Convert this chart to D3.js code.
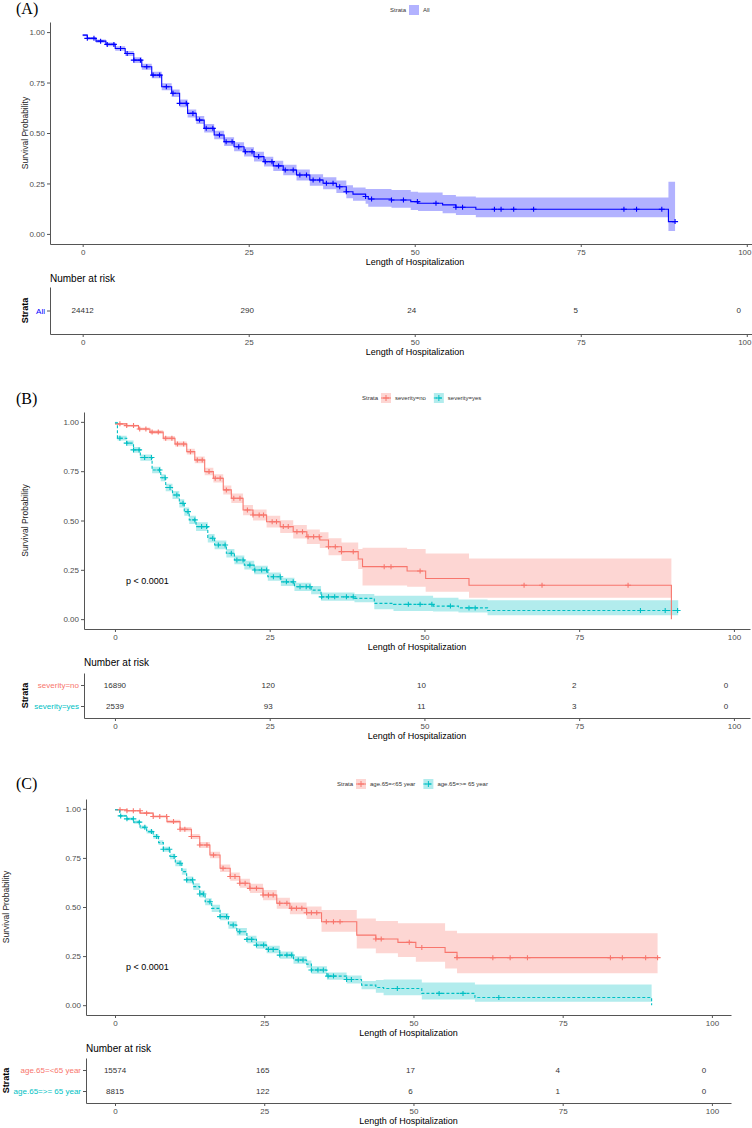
<!DOCTYPE html>
<html lang="en">
<head>
    <meta charset="utf-8">
    <style>
        body { margin: 0; background: white; }
        svg { display: block; font-family: "Liberation Sans", Arial, sans-serif; }
        .axis path, .axis line { stroke: #555; stroke-width: 1; }
        .axis text { fill: #4D4D4D; font-size: 8px; }
        .tag { font-family: "Liberation Serif", "Times New Roman", serif; font-size: 16px; }
        .legend text { font-size: 6px; fill: #333; }
    </style>
    <script src="https://d3js.org/d3.v7.min.js"></script>
</head>
<body>
<svg id="chart" width="752" height="1128"></svg>
<script>
// ---- data ----
const xTicks = [0, 25, 50, 75, 100];
const yTicks = [0, 0.25, 0.5, 0.75, 1];
const riskTimes = [0, 25, 50, 75, 100];

// (A) all patients
const aTime = [0, 0.7, 2.0, 3.5, 4.9, 6.4, 7.7, 8.9, 10.4, 11.9, 13.4, 14.6, 15.8, 17.1, 18.3, 19.8, 21.3, 22.8, 24.3, 25.8, 27.3, 28.7, 30.2, 32.2, 34.2, 36.2, 38.2, 39.7, 40.7, 42.6, 43.0, 46.5, 49.4, 50.5, 54.2, 56.2, 59.2, 88.2, 89.2];
const aSurv = [0.985, 0.969, 0.955, 0.939, 0.919, 0.894, 0.861, 0.828, 0.787, 0.729, 0.697, 0.647, 0.597, 0.564, 0.523, 0.490, 0.457, 0.432, 0.407, 0.383, 0.358, 0.337, 0.317, 0.292, 0.267, 0.251, 0.234, 0.209, 0.197, 0.185, 0.173, 0.168, 0.160, 0.152, 0.144, 0.132, 0.122, 0.061, 0.061];
const aLow  = [0.980, 0.962, 0.947, 0.930, 0.908, 0.882, 0.847, 0.813, 0.771, 0.712, 0.679, 0.628, 0.577, 0.544, 0.502, 0.469, 0.435, 0.410, 0.384, 0.359, 0.334, 0.312, 0.291, 0.265, 0.239, 0.221, 0.203, 0.177, 0.164, 0.150, 0.135, 0.130, 0.119, 0.113, 0.102, 0.094, 0.083, 0.015, 0.015];
const aUp   = [0.990, 0.976, 0.963, 0.948, 0.930, 0.906, 0.875, 0.843, 0.803, 0.746, 0.715, 0.666, 0.617, 0.584, 0.544, 0.511, 0.479, 0.454, 0.430, 0.407, 0.382, 0.362, 0.343, 0.319, 0.295, 0.281, 0.265, 0.241, 0.230, 0.222, 0.223, 0.218, 0.209, 0.205, 0.193, 0.185, 0.180, 0.259, 0.259];
const aCens = [0.7, 1.7, 2.7, 3.7, 4.7, 5.7, 6.7, 7.7, 8.7, 9.65, 10.6, 11.6, 12.6, 13.6, 14.6, 15.6, 16.6, 17.6, 18.6, 19.6, 20.6, 21.6, 22.5, 23.5, 24.5, 25.5, 26.5, 27.5, 28.5, 29.5, 30.5, 31.7, 32.7, 33.7, 34.7, 35.7, 36.7, 37.7, 38.7, 39.7, 42.6, 43.5, 46.5, 48.3, 50.4, 53.2, 56.2, 57.2, 62.0, 63.0, 64.9, 67.9, 81.5, 83.4, 87.2, 89.2];
const aRisk = [24412, 290, 24, 5, 0];

// (B) severity = no
const bNoTime = [0, 1.9, 3.8, 5.65, 7.8, 9.7, 11.6, 12.9, 14.5, 15.9, 17.5, 18.8, 20.7, 22.3, 24.5, 26.7, 28.8, 31.0, 33.1, 34.5, 36.6, 39.3, 40.0, 47.2, 50.2, 57.2, 89.9];
const bNoSurv = [0.990, 0.981, 0.964, 0.948, 0.917, 0.888, 0.849, 0.807, 0.748, 0.714, 0.655, 0.613, 0.553, 0.528, 0.494, 0.469, 0.443, 0.418, 0.401, 0.367, 0.342, 0.305, 0.266, 0.244, 0.206, 0.172, 0.0];
const bNoLow  = [0.986, 0.976, 0.957, 0.939, 0.906, 0.875, 0.834, 0.790, 0.729, 0.693, 0.632, 0.589, 0.527, 0.500, 0.464, 0.437, 0.409, 0.381, 0.361, 0.324, 0.295, 0.254, 0.170, 0.164, 0.139, 0.108, 0.0];
const bNoUp   = [0.994, 0.986, 0.971, 0.957, 0.928, 0.901, 0.864, 0.824, 0.767, 0.735, 0.678, 0.637, 0.579, 0.556, 0.524, 0.501, 0.477, 0.455, 0.441, 0.410, 0.389, 0.356, 0.362, 0.355, 0.333, 0.308, 0.0];
const bNoCens = [0.8, 1.9, 3.0, 4.0, 5.0, 6.0, 7.0, 8.2, 9.2, 10.1, 11.1, 12.2, 13.3, 14.1, 15.2, 16.2, 17.0, 18.0, 19.2, 20.2, 21.4, 22.3, 23.3, 24.0, 25.4, 26.1, 27.2, 28.0, 29.4, 30.3, 31.2, 32.1, 33.0, 34.5, 35.6, 36.6, 38.5, 43.5, 44.6, 49.3, 66.1, 69.0, 82.9];
const bNoRisk = [16890, 120, 10, 2, 0];

// (B) severity = yes
const bYesTime = [0, 0.4, 1.9, 3.0, 4.1, 6.0, 7.4, 8.2, 9.3, 10.4, 11.2, 12.0, 13.1, 15.0, 16.1, 18.0, 19.3, 20.9, 22.5, 24.7, 26.8, 29.0, 31.7, 33.3, 38.7, 41.9, 45.0, 51.4, 55.5, 60.2, 91.0];
const bYesSurv = [0.995, 0.917, 0.892, 0.858, 0.819, 0.756, 0.717, 0.667, 0.629, 0.587, 0.545, 0.503, 0.469, 0.410, 0.376, 0.334, 0.300, 0.274, 0.249, 0.215, 0.189, 0.164, 0.147, 0.113, 0.105, 0.080, 0.075, 0.066, 0.057, 0.044, 0.044];
const bYesLow  = [0.990, 0.905, 0.879, 0.844, 0.803, 0.739, 0.699, 0.648, 0.609, 0.566, 0.524, 0.482, 0.447, 0.388, 0.354, 0.312, 0.278, 0.252, 0.227, 0.194, 0.168, 0.143, 0.126, 0.093, 0.085, 0.050, 0.041, 0.039, 0.034, 0.020, 0.020];
const bYesUp   = [1.000, 0.929, 0.905, 0.872, 0.835, 0.773, 0.735, 0.686, 0.649, 0.608, 0.566, 0.524, 0.491, 0.432, 0.398, 0.356, 0.322, 0.296, 0.271, 0.236, 0.210, 0.185, 0.168, 0.135, 0.127, 0.118, 0.118, 0.108, 0.100, 0.096, 0.096];
const bYesCens = [0.8, 1.9, 3.0, 3.9, 4.8, 5.9, 7.2, 8.1, 8.9, 10.0, 11.0, 11.8, 12.9, 14.0, 14.8, 15.8, 16.7, 17.8, 18.8, 19.7, 20.7, 21.8, 22.6, 23.7, 24.5, 25.6, 26.7, 27.7, 28.8, 29.9, 30.9, 31.5, 33.4, 34.5, 35.5, 37.4, 38.5, 47.4, 49.3, 51.2, 54.2, 57.2, 58.2, 84.9, 88.9, 90.9];
const bYesRisk = [2539, 93, 11, 3, 0];

// (C) age < 65
const cYoungTime = [0, 2.0, 4.2, 6.4, 8.7, 10.9, 12.8, 14.2, 15.9, 17.6, 19.3, 20.9, 22.6, 24.8, 27.1, 29.3, 32.1, 34.6, 40.5, 43.7, 47.4, 50.4, 55.3, 57.3, 90.9];
const cYoungSurv = [0.995, 0.990, 0.978, 0.961, 0.935, 0.896, 0.859, 0.816, 0.765, 0.697, 0.655, 0.621, 0.595, 0.561, 0.519, 0.493, 0.471, 0.425, 0.357, 0.337, 0.320, 0.294, 0.269, 0.242, 0.242];
const cYoungLow  = [0.992, 0.986, 0.973, 0.954, 0.926, 0.885, 0.846, 0.801, 0.748, 0.678, 0.634, 0.598, 0.571, 0.535, 0.491, 0.463, 0.439, 0.374, 0.289, 0.264, 0.245, 0.221, 0.187, 0.162, 0.162];
const cYoungUp   = [0.998, 0.994, 0.983, 0.968, 0.944, 0.907, 0.872, 0.831, 0.782, 0.716, 0.676, 0.644, 0.619, 0.587, 0.547, 0.523, 0.503, 0.485, 0.442, 0.429, 0.417, 0.417, 0.379, 0.366, 0.366];
const cYoungCens = [0.84, 2.0, 3.07, 4.19, 5.3, 6.4, 7.5, 8.65, 9.8, 10.9, 11.7, 12.8, 14.2, 15.4, 16.5, 18.1, 19.3, 20.1, 20.9, 21.8, 22.6, 23.7, 24.8, 25.7, 26.5, 27.6, 28.8, 29.6, 30.4, 31.3, 32.1, 32.9, 33.8, 35.4, 36.6, 37.7, 43.7, 44.6, 49.3, 51.4, 57.3, 63.3, 66.2, 69.1, 83.0, 85.0, 88.9, 90.9];
const cYoungRisk = [15574, 165, 17, 4, 0];

// (C) age >= 65
const cOldTime = [0, 0.8, 2.0, 3.1, 4.2, 5.3, 6.4, 7.3, 8.1, 9.2, 10.1, 11.2, 12.0, 13.1, 14.2, 15.1, 16.2, 17.6, 19.0, 20.4, 22.1, 23.7, 25.4, 27.6, 29.9, 32.1, 32.9, 35.5, 38.8, 41.3, 43.7, 45.0, 51.4, 60.3, 89.9];
const cOldSurv = [0.995, 0.964, 0.949, 0.932, 0.906, 0.884, 0.859, 0.828, 0.794, 0.757, 0.723, 0.680, 0.638, 0.604, 0.566, 0.527, 0.493, 0.451, 0.408, 0.374, 0.335, 0.306, 0.284, 0.255, 0.230, 0.209, 0.179, 0.148, 0.131, 0.102, 0.090, 0.085, 0.060, 0.039, 0.0];
const cOldLow  = [0.992, 0.958, 0.942, 0.924, 0.897, 0.874, 0.848, 0.816, 0.781, 0.743, 0.708, 0.664, 0.621, 0.587, 0.548, 0.509, 0.474, 0.432, 0.389, 0.355, 0.316, 0.287, 0.265, 0.236, 0.211, 0.190, 0.160, 0.129, 0.111, 0.081, 0.063, 0.051, 0.029, 0.017, 0.0];
const cOldUp   = [0.998, 0.970, 0.956, 0.940, 0.915, 0.894, 0.870, 0.840, 0.807, 0.771, 0.738, 0.696, 0.655, 0.621, 0.584, 0.545, 0.512, 0.470, 0.427, 0.393, 0.354, 0.325, 0.303, 0.274, 0.249, 0.228, 0.198, 0.167, 0.151, 0.123, 0.128, 0.131, 0.116, 0.105, 0.0];
const cOldCens = [0.95, 2.0, 3.07, 4.07, 5.0, 6.1, 6.98, 8.1, 9.1, 9.9, 10.9, 12.0, 13.0, 14.2, 14.8, 15.9, 17.6, 18.7, 19.8, 20.9, 22.1, 22.9, 23.7, 24.9, 25.7, 26.5, 27.6, 28.8, 29.6, 30.7, 31.5, 32.9, 34.0, 34.9, 35.7, 36.6, 38.8, 39.6, 47.3, 54.3, 58.3, 64.3];
const cOldRisk = [8815, 122, 6, 1, 0];

// ---- panel layout ----
const W = 752;
const RED = "#F8766D", CYAN = "#00BFC4", BLUE = "#0000FF";
// risk numbers sit a little left of their ticks in the original
const riskShift = [0, -1.5, -3, -5, -8];

const panels = [
    { tag: "(A)", tagY: 14, legY: 10, legX: 390, xDom: [-4.92, 105], xRange: [50, 780], yRange: [244, 22],
      ylabX: 25, pval: null, riskTitleY: 282, riskRange: [287, 334], strataX: 25,
      strata: [{ name: "All", legend: "All", color: BLUE, band: BLUE, dash: null, keyLine: false,
                 time: aTime, surv: aSurv, low: aLow, up: aUp, cens: aCens, risk: aRisk }] },
    { tag: "(B)", tagY: 404, legY: 398, legX: 362, xDom: [-5, 102.6], xRange: [84, 750], yRange: [629, 412],
      ylabX: 25, pval: [126, 584], riskTitleY: 666, riskRange: [673, 718], strataX: 25,
      strata: [{ name: "severity=no", legend: "severity=no", color: RED, band: RED, dash: null, keyLine: true,
                 time: bNoTime, surv: bNoSurv, low: bNoLow, up: bNoUp, cens: bNoCens, risk: bNoRisk },
               { name: "severity=yes", legend: "severity=yes", color: CYAN, band: CYAN, dash: "3,2", keyLine: true,
                 time: bYesTime, surv: bYesSurv, low: bYesLow, up: bYesUp, cens: bYesCens, risk: bYesRisk }] },
    { tag: "(C)", tagY: 789, legY: 784, legX: 337, xDom: [-4.86, 103.2], xRange: [86, 731], yRange: [1015, 799],
      ylabX: 6, pval: [126, 970], riskTitleY: 1052, riskRange: [1058, 1103], strataX: 6,
      strata: [{ name: "age.65=<65  year", legend: "age.65=<65 year", color: RED, band: RED, dash: null, keyLine: true,
                 time: cYoungTime, surv: cYoungSurv, low: cYoungLow, up: cYoungUp, cens: cYoungCens, risk: cYoungRisk },
               { name: "age.65=>= 65 year", legend: "age.65=>= 65 year", color: CYAN, band: CYAN, dash: "3,2", keyLine: true,
                 time: cOldTime, surv: cOldSurv, low: cOldLow, up: cOldUp, cens: cOldCens, risk: cOldRisk }] }
];

const svg = d3.select("#chart");

// survival value at time t (step function)
function stepAt(time, surv, t) {
    let v = surv[0];
    for (let i = 0; i < time.length; i++) { if (time[i] <= t) v = surv[i]; }
    return v;
}

function styleAxis(g) {
    g.attr("class", "axis");
    g.selectAll("text").attr("font-family", null);
}

// keep bottom-axis labels inside the page
function keepInside(g, x) {
    g.selectAll(".tick text").each(function (d) {
        const w = this.getComputedTextLength();
        if (x(d) + w / 2 > W - 1) {
            d3.select(this).attr("text-anchor", "end").attr("x", W - 1 - x(d));
        }
    });
}

function drawPanel(p) {
    const g = svg.append("g");
    const x = d3.scaleLinear().domain(p.xDom).range(p.xRange);
    const y = d3.scaleLinear().domain([-0.05, 1.05]).range(p.yRange);

    // tag
    g.append("text").attr("class", "tag").attr("x", 16).attr("y", p.tagY).text(p.tag);

    // legend
    const leg = g.append("g").attr("class", "legend");
    let lx = p.legX;
    leg.append("text").attr("x", lx).attr("y", p.legY).attr("dy", "0.35em").text("Strata");
    lx += 19;
    p.strata.forEach(s => {
        leg.append("rect").attr("x", lx).attr("y", p.legY - 5).attr("width", 10).attr("height", 10)
            .attr("fill", s.band).attr("fill-opacity", 0.3);
        if (s.keyLine) {
            leg.append("line").attr("x1", lx).attr("x2", lx + 10).attr("y1", p.legY).attr("y2", p.legY)
                .attr("stroke", s.color).attr("stroke-dasharray", s.dash);
            leg.append("path").attr("d", `M${lx + 2},${p.legY}h6M${lx + 5},${p.legY - 3}v6`)
                .attr("stroke", s.color).attr("stroke-width", 1);
        }
        const t = leg.append("text").attr("x", lx + 14).attr("y", p.legY).attr("dy", "0.35em").text(s.legend);
        lx += 14 + t.node().getComputedTextLength() + 8;
    });

    // bands, lines, censor marks
    const area = d3.area().x(d => x(d.t)).y0(d => y(d.lo)).y1(d => y(d.hi)).curve(d3.curveStepAfter);
    const line = d3.line().x(d => x(d.t)).y(d => y(d.s)).curve(d3.curveStepAfter);
    p.strata.forEach(s => {
        const pts = s.time.map((t, i) => ({ t: t, s: s.surv[i], lo: s.low[i], hi: s.up[i] }));
        g.append("path").datum(pts).attr("d", area).attr("fill", s.band).attr("fill-opacity", 0.3);
    });
    p.strata.forEach(s => {
        const pts = s.time.map((t, i) => ({ t: t, s: s.surv[i] }));
        g.append("path").datum(pts).attr("d", line).attr("fill", "none")
            .attr("stroke", s.color).attr("stroke-width", 1.1).attr("stroke-dasharray", s.dash);
        g.selectAll(null).data(s.cens).join("path")
            .attr("d", t => `M${x(t) - 3},${y(stepAt(s.time, s.surv, t))}h6M${x(t)},${y(stepAt(s.time, s.surv, t)) - 2.5}v5`)
            .attr("stroke", s.color).attr("stroke-width", 1.1);
    });

    // axes
    g.append("g").attr("transform", `translate(0,${p.yRange[0]})`)
        .call(d3.axisBottom(x).tickValues(xTicks).tickSize(3).tickPadding(2).tickSizeOuter(0))
        .call(styleAxis)
        .call(keepInside, x);
    g.append("g").attr("transform", `translate(${p.xRange[0]},0)`)
        .call(d3.axisLeft(y).tickValues(yTicks).tickFormat(d3.format(".2f")).tickSize(3).tickPadding(2).tickSizeOuter(0))
        .call(styleAxis);

    const midX = (p.xRange[0] + p.xRange[1]) / 2;
    g.append("text").attr("x", midX).attr("y", p.yRange[0] + 20.5).attr("text-anchor", "middle")
        .attr("font-size", "9px").text("Length of Hospitalization");
    g.append("text").attr("transform", `translate(${p.ylabX},${y(0.5)}) rotate(-90)`)
        .attr("text-anchor", "middle").attr("dy", "0.35em").attr("font-size", "8.5px").attr("fill", "#222")
        .text("Survival Probability");

    if (p.pval) {
        g.append("text").attr("x", p.pval[0]).attr("y", p.pval[1]).attr("font-size", "9px").text("p < 0.0001");
    }

    // risk table
    g.append("text").attr("x", p.xRange[0]).attr("y", p.riskTitleY).attr("font-size", "10px").text("Number at risk");
    const ry = d3.scalePoint().domain(p.strata.map(s => s.name)).range(p.riskRange).padding(p.strata.length > 1 ? 0.57 : 0.5);
    const yAx = g.append("g").attr("transform", `translate(${p.xRange[0]},0)`)
        .call(d3.axisLeft(ry).tickSize(3).tickPadding(2).tickSizeOuter(0))
        .call(styleAxis);
    yAx.selectAll(".tick text").style("fill", (d, i) => p.strata[i].color);
    g.append("g").attr("transform", `translate(0,${p.riskRange[1]})`)
        .call(d3.axisBottom(x).tickValues(xTicks).tickSize(3).tickPadding(2).tickSizeOuter(0))
        .call(styleAxis)
        .call(keepInside, x);
    p.strata.forEach(s => {
        g.selectAll(null).data(riskTimes).join("text")
            .attr("x", (d, i) => x(d) + riskShift[i]).attr("y", ry(s.name)).attr("dy", "0.35em")
            .attr("text-anchor", "middle").attr("font-size", "8px").attr("fill", "#333")
            .text((d, i) => s.risk[i]);
    });
    g.append("text").attr("x", midX).attr("y", p.riskRange[1] + 21).attr("text-anchor", "middle")
        .attr("font-size", "9px").text("Length of Hospitalization");
    const rMid = (p.riskRange[0] + p.riskRange[1]) / 2;
    g.append("text").attr("transform", `translate(${p.strataX},${rMid}) rotate(-90)`)
        .attr("text-anchor", "middle").attr("dy", "0.35em").attr("font-size", "9px").attr("font-weight", "bold")
        .text("Strata");
}

panels.forEach(drawPanel);
</script>
</body>
</html>
